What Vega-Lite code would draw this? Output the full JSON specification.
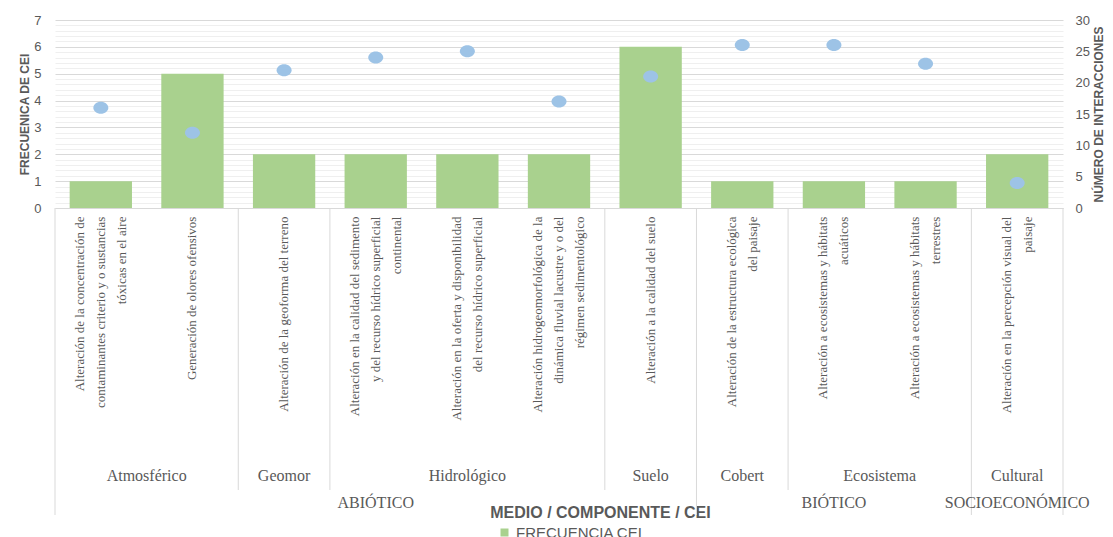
{
  "$schema": "https://vega.github.io/schema/vega-lite/v6.json",
  "padding": {"left": 18, "top": 14, "right": 4, "bottom": 0},
  "spacing": 0,
  "bounds": "flush",
  "datasets": {
    "cei": [
      {"cei": "Alteración de la concentración de\ncontaminantes criterio y o sustancias\ntóxicas en el aire", "componente": "Atmosférico", "medio": "ABIÓTICO", "frecuencia": 1, "interacciones": 16},
      {"cei": "Generación de olores ofensivos", "componente": "Atmosférico", "medio": "ABIÓTICO", "frecuencia": 5, "interacciones": 12},
      {"cei": "Alteración de la geoforma del terreno", "componente": "Geomor", "medio": "ABIÓTICO", "frecuencia": 2, "interacciones": 22},
      {"cei": "Alteración en la calidad del sedimento\ny del recurso hídrico superficial\ncontinental", "componente": "Hidrológico", "medio": "ABIÓTICO", "frecuencia": 2, "interacciones": 24},
      {"cei": "Alteración en la oferta y disponibilidad\ndel recurso hídrico superficial", "componente": "Hidrológico", "medio": "ABIÓTICO", "frecuencia": 2, "interacciones": 25},
      {"cei": "Alteración hidrogeomorfológica de la\ndinámica fluvial lacustre y o del\nrégimen sedimentológico", "componente": "Hidrológico", "medio": "ABIÓTICO", "frecuencia": 2, "interacciones": 17},
      {"cei": "Alteración a la calidad del suelo", "componente": "Suelo", "medio": "ABIÓTICO", "frecuencia": 6, "interacciones": 21},
      {"cei": "Alteración de la estructura ecológica\ndel paisaje", "componente": "Cobert", "medio": "BIÓTICO", "frecuencia": 1, "interacciones": 26},
      {"cei": "Alteración a ecosistemas y hábitats\nacuáticos", "componente": "Ecosistema", "medio": "BIÓTICO", "frecuencia": 1, "interacciones": 26},
      {"cei": "Alteración a ecosistemas y hábitats\nterrestres", "componente": "Ecosistema", "medio": "BIÓTICO", "frecuencia": 1, "interacciones": 23},
      {"cei": "Alteración en la percepción visual del\npaisaje", "componente": "Cultural", "medio": "SOCIOECONÓMICO", "frecuencia": 2, "interacciones": 4}
    ]
  },
  "config": {
    "view": {"stroke": null},
    "axisX": {"labels": false, "ticks": false, "domain": false, "grid": false, "titleFont": "Liberation Sans", "titleFontSize": 16, "titleFontWeight": "bold", "titleColor": "#595959", "titlePadding": -11, "titleX": 545},
    "axisY": {"domain": false, "ticks": false, "labelFont": "Liberation Sans", "labelFontSize": 13, "labelColor": "#595959", "titleFont": "Liberation Sans", "titleFontSize": 12, "titleFontWeight": "bold", "titleColor": "#595959"}
  },
  "vconcat": [
    {
      "width": 1008,
      "height": 188,
      "data": {"name": "cei"},
      "layer": [
        {
          "mark": {"type": "bar", "width": {"band": 0.68}},
          "encoding": {
            "x": {"field": "cei", "type": "nominal", "sort": null, "title": null, "scale": {"paddingInner": 0, "paddingOuter": 0}, "axis": {"domain": true, "domainColor": "#d9d9d9", "domainWidth": 1}},
            "y": {
              "field": "frecuencia", "type": "quantitative",
              "scale": {"domain": [0, 7], "nice": false},
              "axis": {
                "title": "FRECUENICA DE CEI",
                "values": [0,0.2,0.4,0.6,0.8,1,1.2,1.4,1.6,1.8,2,2.2,2.4,2.6,2.8,3,3.2,3.4,3.6,3.8,4,4.2,4.4,4.6,4.8,5,5.2,5.4,5.6,5.8,6,6.2,6.4,6.6,6.8,7],
                "grid": true,
                "gridColor": {"condition": {"test": "datum.value % 1 === 0", "value": "#d9d9d9"}, "value": "#efefef"},
                "labelExpr": "datum.value % 1 === 0 ? format(datum.value, 'd') : ''",
                "labelPadding": 14,
                "titlePadding": 2
              }
            },
            "color": {
              "datum": "FRECUENCIA CEI", "type": "nominal",
              "scale": {"range": ["#A9D18E"]},
              "legend": {"title": null, "orient": "none", "legendX": 442, "legendY": 505, "direction": "horizontal", "symbolType": "square", "symbolSize": 64, "symbolStrokeWidth": 0, "labelFont": "Liberation Sans", "labelFontSize": 15, "labelColor": "#595959"}
            }
          }
        },
        {
          "mark": {"type": "point", "filled": true, "opacity": 1, "color": "#9DC3E6", "size": 225, "shape": "M -1 0 A 1 0.8 0 1 0 1 0 A 1 0.8 0 1 0 -1 0 Z"},
          "encoding": {
            "x": {"field": "cei", "type": "nominal", "sort": null, "title": null, "scale": {"paddingInner": 0, "paddingOuter": 0}, "axis": {"domain": true, "domainColor": "#d9d9d9", "domainWidth": 1}},
            "y": {
              "field": "interacciones", "type": "quantitative",
              "scale": {"domain": [0, 30], "nice": false},
              "axis": {"orient": "right", "title": "NÚMERO DE INTERACCIONES", "values": [0,5,10,15,20,25,30], "grid": false, "labelPadding": 12, "titlePadding": 4, "titleAngle": 270, "titleBaseline": "top"}
            }
          }
        }
      ],
      "resolve": {"scale": {"y": "independent"}}
    },
    {
      "width": 1008,
      "height": 254,
      "data": {"name": "cei"},
      "transform": [
        {"window": [{"op": "lag", "field": "componente", "as": "prev"}, {"op": "lead", "field": "componente", "as": "next"}]}
      ],
      "layer": [
        {
          "mark": {"type": "rule", "color": "#d9d9d9", "strokeWidth": 1},
          "encoding": {
            "x": {"field": "cei", "type": "nominal", "sort": null, "title": null, "bandPosition": 0, "scale": {"paddingInner": 0, "paddingOuter": 0}},
            "strokeOpacity": {"condition": {"test": "datum.prev !== datum.componente", "value": 1}, "value": 0}
          }
        },
        {
          "mark": {"type": "rule", "color": "#d9d9d9", "strokeWidth": 1},
          "encoding": {
            "x": {"field": "cei", "type": "nominal", "sort": null, "title": null, "bandPosition": 1, "scale": {"paddingInner": 0, "paddingOuter": 0}},
            "strokeOpacity": {"condition": {"test": "datum.next == null", "value": 1}, "value": 0}
          }
        },
        {
          "mark": {"type": "text", "angle": 270, "align": "right", "baseline": "middle", "lineBreak": "\n", "lineHeight": 21, "font": "Liberation Serif", "fontSize": 13, "color": "#595959", "dy": 0},
          "encoding": {
            "x": {"field": "cei", "type": "nominal", "sort": null, "title": null, "scale": {"paddingInner": 0, "paddingOuter": 0}},
            "y": {"datum": 1, "type": "quantitative", "scale": {"domain": [0, 1.035]}, "axis": null},
            "text": {"condition": {"test": "length(split(datum.cei, '\\n')) === 1", "field": "cei"}, "value": ""}
          }
        },
        {
          "mark": {"type": "text", "angle": 270, "align": "right", "baseline": "middle", "lineBreak": "\n", "lineHeight": 21, "font": "Liberation Serif", "fontSize": 13, "color": "#595959", "dy": -10.5},
          "encoding": {
            "x": {"field": "cei", "type": "nominal", "sort": null, "title": null, "scale": {"paddingInner": 0, "paddingOuter": 0}},
            "y": {"datum": 1, "type": "quantitative", "scale": {"domain": [0, 1.035]}, "axis": null},
            "text": {"condition": {"test": "length(split(datum.cei, '\\n')) === 2", "field": "cei"}, "value": ""}
          }
        },
        {
          "mark": {"type": "text", "angle": 270, "align": "right", "baseline": "middle", "lineBreak": "\n", "lineHeight": 21, "font": "Liberation Serif", "fontSize": 13, "color": "#595959", "dy": -21},
          "encoding": {
            "x": {"field": "cei", "type": "nominal", "sort": null, "title": null, "scale": {"paddingInner": 0, "paddingOuter": 0}},
            "y": {"datum": 1, "type": "quantitative", "scale": {"domain": [0, 1.035]}, "axis": null},
            "text": {"condition": {"test": "length(split(datum.cei, '\\n')) === 3", "field": "cei"}, "value": ""}
          }
        }
      ]
    },
    {
      "width": 1008,
      "height": 28,
      "data": {"name": "cei"},
      "transform": [
        {"window": [{"op": "lag", "field": "componente", "as": "prev"}, {"op": "lead", "field": "componente", "as": "next"}]},
        {"joinaggregate": [{"op": "count", "as": "n"}], "groupby": ["componente"]},
        {"window": [{"op": "row_number", "as": "r"}], "groupby": ["componente"]}
      ],
      "layer": [
        {
          "mark": {"type": "rule", "color": "#d9d9d9", "strokeWidth": 1},
          "encoding": {
            "x": {"field": "cei", "type": "nominal", "sort": null, "title": null, "bandPosition": 0, "scale": {"paddingInner": 0, "paddingOuter": 0}},
            "strokeOpacity": {"condition": {"test": "datum.prev !== datum.componente", "value": 1}, "value": 0}
          }
        },
        {
          "mark": {"type": "rule", "color": "#d9d9d9", "strokeWidth": 1},
          "encoding": {
            "x": {"field": "cei", "type": "nominal", "sort": null, "title": null, "bandPosition": 1, "scale": {"paddingInner": 0, "paddingOuter": 0}},
            "strokeOpacity": {"condition": {"test": "datum.next == null", "value": 1}, "value": 0}
          }
        },
        {
          "mark": {"type": "text", "font": "Liberation Serif", "fontSize": 16, "color": "#595959"},
          "encoding": {
            "x": {"field": "cei", "type": "nominal", "sort": null, "title": null, "bandPosition": 0, "scale": {"paddingInner": 0, "paddingOuter": 0}},
            "text": {"condition": {"test": "datum.n % 2 === 0 && datum.r === datum.n / 2 + 1", "field": "componente"}, "value": ""}
          }
        },
        {
          "mark": {"type": "text", "font": "Liberation Serif", "fontSize": 16, "color": "#595959"},
          "encoding": {
            "x": {"field": "cei", "type": "nominal", "sort": null, "title": null, "bandPosition": 0.5, "scale": {"paddingInner": 0, "paddingOuter": 0}},
            "text": {"condition": {"test": "datum.n % 2 === 1 && datum.r === (datum.n + 1) / 2", "field": "componente"}, "value": ""}
          }
        }
      ]
    },
    {
      "width": 1008,
      "height": 25,
      "data": {"name": "cei"},
      "transform": [
        {"window": [{"op": "lag", "field": "medio", "as": "prev"}, {"op": "lead", "field": "medio", "as": "next"}]},
        {"joinaggregate": [{"op": "count", "as": "n"}], "groupby": ["medio"]},
        {"window": [{"op": "row_number", "as": "r"}], "groupby": ["medio"]}
      ],
      "layer": [
        {
          "mark": {"type": "rule", "color": "#d9d9d9", "strokeWidth": 1},
          "encoding": {
            "x": {"field": "cei", "type": "nominal", "sort": null, "title": "MEDIO / COMPONENTE / CEI", "bandPosition": 0, "scale": {"paddingInner": 0, "paddingOuter": 0}},
            "strokeOpacity": {"condition": {"test": "datum.prev !== datum.medio", "value": 1}, "value": 0}
          }
        },
        {
          "mark": {"type": "rule", "color": "#d9d9d9", "strokeWidth": 1},
          "encoding": {
            "x": {"field": "cei", "type": "nominal", "sort": null, "title": "MEDIO / COMPONENTE / CEI", "bandPosition": 1, "scale": {"paddingInner": 0, "paddingOuter": 0}},
            "strokeOpacity": {"condition": {"test": "datum.next == null", "value": 1}, "value": 0}
          }
        },
        {
          "mark": {"type": "text", "font": "Liberation Serif", "fontSize": 16, "color": "#595959"},
          "encoding": {
            "x": {"field": "cei", "type": "nominal", "sort": null, "title": "MEDIO / COMPONENTE / CEI", "bandPosition": 0, "scale": {"paddingInner": 0, "paddingOuter": 0}},
            "text": {"condition": {"test": "datum.n % 2 === 0 && datum.r === datum.n / 2 + 1", "field": "medio"}, "value": ""}
          }
        },
        {
          "mark": {"type": "text", "font": "Liberation Serif", "fontSize": 16, "color": "#595959"},
          "encoding": {
            "x": {"field": "cei", "type": "nominal", "sort": null, "title": "MEDIO / COMPONENTE / CEI", "bandPosition": 0.5, "scale": {"paddingInner": 0, "paddingOuter": 0}},
            "text": {"condition": {"test": "datum.n % 2 === 1 && datum.r === (datum.n + 1) / 2", "field": "medio"}, "value": ""}
          }
        }
      ]
    }
  ]
}
